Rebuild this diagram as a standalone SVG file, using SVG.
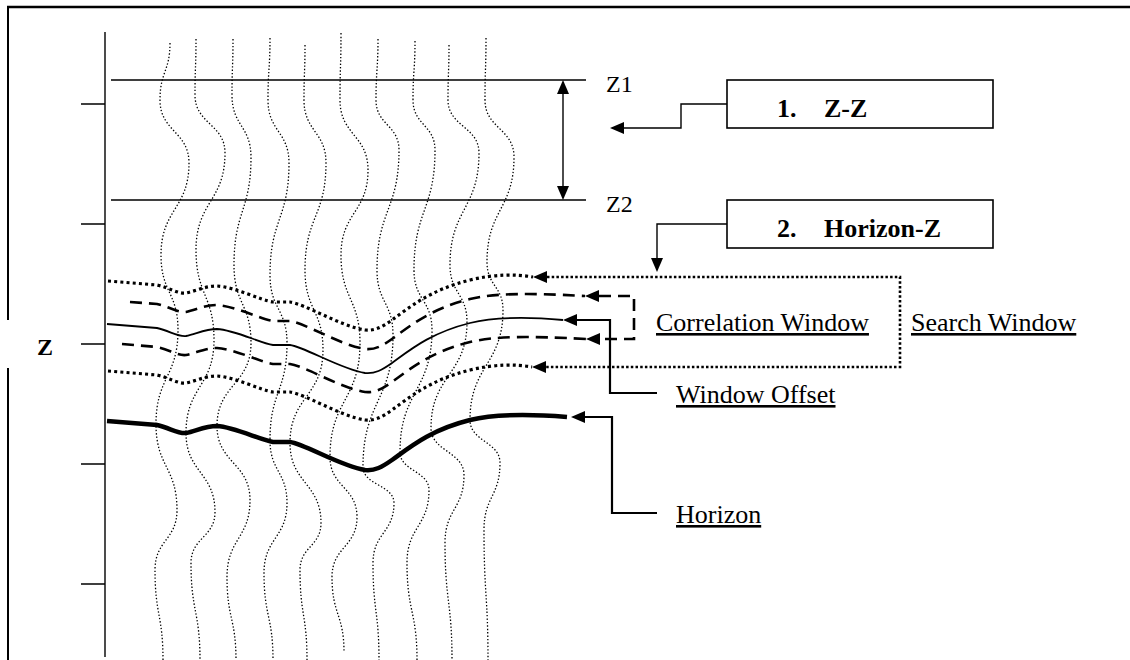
<svg xmlns="http://www.w3.org/2000/svg" width="1130" height="660" viewBox="0 0 1130 660">
<style>
.ln{fill:none;stroke:#000;stroke-width:1.4}
.tr{fill:none;stroke:#000;stroke-width:1.3;stroke-dasharray:1.4 2}
.dot{fill:none;stroke:#000;stroke-width:3.2;stroke-dasharray:3 3.2}
.dash{fill:none;stroke:#000;stroke-width:2.6;stroke-dasharray:12 7}
.sol{fill:none;stroke:#000;stroke-width:1.8}
.hz{fill:none;stroke:#000;stroke-width:4.5}
.con{fill:none;stroke:#000;stroke-width:2.2}
.box{fill:#fff;stroke:#000;stroke-width:1.6}
.t{font-family:"Liberation Serif","Times New Roman",serif;font-size:26px;fill:#000}
.tz{font-family:"Liberation Serif","Times New Roman",serif;font-size:24px;fill:#000}
.b{font-weight:bold}
.u{text-decoration:underline}
</style>
<defs>
<marker id="ah" viewBox="0 0 14 12" refX="0" refY="6" markerWidth="14" markerHeight="12" markerUnits="userSpaceOnUse" orient="auto-start-reverse">
<path d="M0,0 L14,6 L0,12 Z" fill="#000"/>
</marker>
</defs>
<g id="frame">
<path d="M7,7 H1130" fill="none" stroke="#000" stroke-width="2.5"/>
<path d="M8,6 V320 M8,368 V660" fill="none" stroke="#000" stroke-width="2"/>
</g>
<g id="axis">
<path class="ln" d="M105,32 V657 M81,104 H105 M81,224 H105 M81,344 H105 M81,464 H105 M81,584 H105" stroke-width="1.6"/>
<text class="tz b" x="37" y="355">Z</text>
</g>
<g id="traces">
<path class="tr" d="M170,43 C170,71.5 160,71.5 160,100 C160,131.5 189,131.5 189,163 C189,209 161,209 161,255 C161,292.5 178,292.5 178,330 C178,377 156,377 156,424 C156,467 177,467 177,510 C177,540 155,540 155,570 C155,615 163,615 163,660"/>
<path class="tr" d="M196,39 C196,67 195,67 195,95 C195,124 225,124 225,153 C225,201.5 196,201.5 196,250 C196,295 214,295 214,340 C214,386.5 186,386.5 186,433 C186,472.5 215,472.5 215,512 C215,537.5 191,537.5 191,563 C191,611.5 200,611.5 200,660"/>
<path class="tr" d="M233,39 C233,67 232,67 232,95 C232,126 251,126 251,157 C251,211 234,211 234,265 C234,304 251,304 251,343 C251,384.5 217,384.5 217,426 C217,463 250,463 250,500 C250,538.5 227,538.5 227,577 C227,618.5 236,618.5 236,660"/>
<path class="tr" d="M270,38 C270,69 268,69 268,100 C268,131.5 289,131.5 289,163 C289,219 270,219 270,275 C270,309 287,309 287,343 C287,391.5 270,391.5 270,440 C270,471.5 287,471.5 287,503 C287,538 264,538 264,573 C264,616.5 273,616.5 273,660"/>
<path class="tr" d="M305,45 C305,72.5 304,72.5 304,100 C304,131.5 326,131.5 326,163 C326,216.5 305,216.5 305,270 C305,310 323,310 323,350 C323,396.5 290,396.5 290,443 C290,483 321,483 321,523 C321,546.5 300,546.5 300,570 C300,615 307,615 307,660"/>
<path class="tr" d="M341,33 C341,66.5 340,66.5 340,100 C340,135 368,135 368,170 C368,212.5 341,212.5 341,255 C341,299 360,299 360,343 C360,400 330,400 330,457 C330,487 357,487 357,517 C357,547 332,547 332,577 C332,614.5 344,614.5 344,652"/>
<path class="tr" d="M378,39 C378,69.5 376,69.5 376,100 C376,125 399,125 399,150 C399,210 377,210 377,270 C377,302.5 393,302.5 393,335 C393,401 363,401 363,467 C363,485 394,485 394,503 C394,533 373,533 373,563 C373,611.5 379,611.5 379,660"/>
<path class="tr" d="M415,41 C415,70.5 413,70.5 413,100 C413,125 435,125 435,150 C435,210 414,210 414,270 C414,300 432,300 432,330 C432,391 400,391 400,452 C400,471 429,471 429,490 C429,526.5 407,526.5 407,563 C407,611.5 417,611.5 417,660"/>
<path class="tr" d="M449,45 C449,72.5 448,72.5 448,100 C448,126.5 479,126.5 479,153 C479,209 450,209 450,265 C450,293.5 467,293.5 467,322 C467,375 431,375 431,428 C431,451.5 464,451.5 464,475 C464,509 445,509 445,543 C445,601.5 452,601.5 452,660"/>
<path class="tr" d="M486,38 C486,69 485,69 485,100 C485,128.5 514,128.5 514,157 C514,209.5 487,209.5 487,262 C487,286 503,286 503,310 C503,365 470,365 470,420 C470,441.5 500,441.5 500,463 C500,496.5 484,496.5 484,530 C484,595 488,595 488,660"/>
</g>
<g id="levels">
<path class="ln" d="M111,80 H586 M111,200 H586"/>
<text class="tz" x="606" y="92">Z1</text>
<text class="tz" x="606" y="212">Z2</text>
</g>
<g id="horizons">
<path class="dot" transform="translate(0,-140)" d="M108,421 L157,425 C170,428 178,434 186,433 C196,431 205,426 217,426 C235,427 260,440 273,442 L290,442 C305,444 340,466 365,470 C375,471 382,467 392,460 C410,447 430,430 470,420 C495,414 515,414 533,417"/>
<path class="dash" transform="translate(0,-121)" d="M130,423 L157,425 C170,428 178,434 186,433 C196,431 205,426 217,426 C235,427 260,440 273,442 L290,442 C305,444 340,466 365,470 C375,471 382,467 392,460 C410,447 430,430 470,420 C495,414 530,414 585,417"/>
<path class="sol" transform="translate(0,-97)" d="M107,421 L157,425 C170,428 178,434 186,433 C196,431 205,426 217,426 C235,427 260,440 273,442 L290,442 C305,444 340,466 365,470 C375,471 382,467 392,460 C410,447 430,430 470,420 C495,414 530,414 563,417"/>
<path class="dash" transform="translate(0,-78)" d="M122,422 L157,425 C170,428 178,434 186,433 C196,431 205,426 217,426 C235,427 260,440 273,442 L290,442 C305,444 340,466 365,470 C375,471 382,467 392,460 C410,447 430,430 470,420 C495,414 530,414 586,417"/>
<path class="dot" transform="translate(0,-50)" d="M108,421 L157,425 C170,428 178,434 186,433 C196,431 205,426 217,426 C235,427 260,440 273,442 L290,442 C305,444 340,466 365,470 C375,471 382,467 392,460 C410,447 430,430 470,420 C495,414 515,414 532,417"/>
<path class="hz" d="M107,421 L157,425 C170,428 178,434 186,433 C196,431 205,426 217,426 C235,427 260,440 273,442 L290,442 C305,444 340,466 365,470 C375,471 382,467 392,460 C410,447 430,430 470,420 C495,414 530,414 567,417"/>
</g>
<g id="connectors">
<path class="ln" d="M563,94 V186" stroke-width="1.6" marker-start="url(#ah)" marker-end="url(#ah)"/>
<path class="ln" d="M727,104 H681 V128 H624" stroke-width="1.6" marker-end="url(#ah)"/>
<path class="ln" d="M727,224 H657 V258" stroke-width="1.6" marker-end="url(#ah)"/>
<path fill="none" stroke="#000" stroke-width="2.6" stroke-dasharray="2.5 2.2" d="M547,277 H900 V367 H546" marker-start="url(#ah)" marker-end="url(#ah)"/>
<path class="dash" stroke-dasharray="10 6" d="M599,296 H634 V339 H600" marker-start="url(#ah)" marker-end="url(#ah)"/>
<path class="con" d="M577,320 H610 V393 H657" marker-start="url(#ah)"/>
<path class="con" d="M585,417 H612 V513 H657" marker-start="url(#ah)"/>
</g>
<g id="box1">
<rect class="box" x="727" y="80" width="266" height="48"/>
<text class="t b" x="777" y="117">1.</text>
<text class="t b" x="824" y="117">Z-Z</text>
</g>
<g id="box2">
<rect class="box" x="727" y="200" width="266" height="48"/>
<text class="t b" x="777" y="237">2.</text>
<text class="t b" x="824" y="237">Horizon-Z</text>
</g>
<g id="labels">
<text class="t u" x="656" y="331">Correlation Window</text>
<text class="t u" x="911" y="331">Search Window</text>
<text class="t u" x="676" y="403">Window Offset</text>
<text class="t u" x="676" y="523">Horizon</text>
</g>
</svg>
